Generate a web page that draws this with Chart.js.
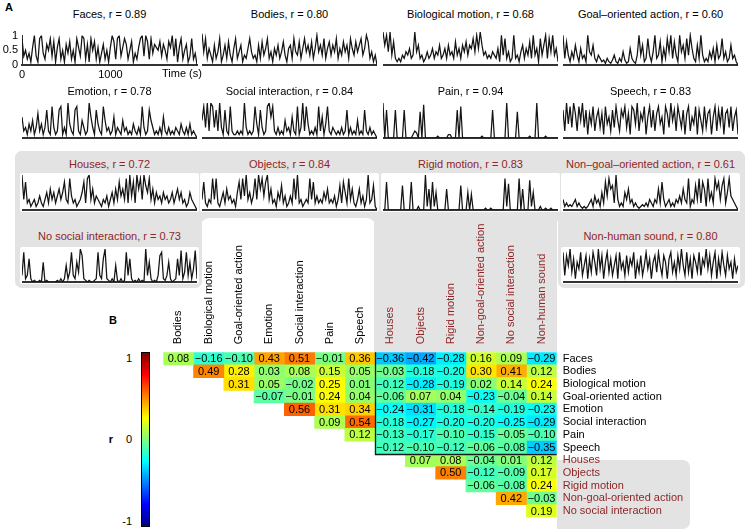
<!DOCTYPE html>
<html><head><meta charset="utf-8">
<script src="https://cdn.jsdelivr.net/npm/chart.js@4.4.1/dist/chart.umd.min.js"></script>
<style>
body{margin:0;width:747px;height:530px;position:relative;overflow:hidden;background:#fff;font-family:"Liberation Sans",Arial,sans-serif;}
canvas{position:absolute;}
</style></head><body>
<script>
// ---------------- DATA ----------------
const SERIES_NAMES = ['Faces','Bodies','Biological motion','Goal\u2013oriented action','Emotion','Social interaction','Pain','Speech','Houses','Objects','Rigid motion','Non\u2013goal\u2013oriented action','No social interaction','Non-human sound'];
const SERIES_R = [0.89,0.80,0.68,0.60,0.78,0.84,0.94,0.83,0.72,0.84,0.83,0.61,0.73,0.80];
const T_MAX = 1980;
const X_TICKS = [0,1000];
const Y_TICKS = [0,0.5,1];

const FACES = [.9,.3,.5,.2,.4,.1,.6,1,.3,.1,.9,1,.4,.2,.7,.5,.9,.3,.8,.1,.6,.9,.2,.5,.1,.7,.4,.8,.2,.5,.1,.9,.6,.3,1,.9,.2,.7,.1,.9,.5,.8,.2,.6,.1,.4,.7,.2,.5,.1,.6,1,.8,.2,.9,1,.3,.6,.9,.7,.2,.5,.8,.1,.4,.2,.6,.9,1,.3,1,.8,.2,.9,.4,.7,.6,.5,.8,.3,.7,.5,.2,.8,.6,1,.3,.9,.1,.6,.9,.2,.5,.7,.1,.3,.9,.2,.4,0];
const BODIES = [.95,.4,.8,.2,.5,.3,.1,.6,.2,.4,.8,.1,.3,.6,.2,.7,.3,.1,.5,.8,.2,.4,.6,.1,.3,.2,.5,.8,.4,.2,.3,.1,.6,.2,.7,.3,.5,.8,.2,.4,.1,.5,.3,.6,.2,.4,.7,.3,.1,.5,.6,.2,.8,.4,.3,.7,.2,.5,.8,.4,.6,.3,.7,.2,.5,.9,.4,.6,.3,.8,.2,.5,.7,.3,.6,.4,.8,.2,.5,.3,.7,.4,.6,.2,.8,.5,.3,.7,.4,.6,.8,.3,.5,.9,.7,.2,.4,.1,.3,0];
const BIO_MOTION = [1,.6,.9,.4,1,.3,.7,.2,.1,.2,.1,.3,.2,.4,.3,.5,.2,.3,1,.4,.6,.2,.3,.1,.2,.4,.2,.3,.5,.2,.4,.3,.6,.2,.3,.5,.2,.6,.3,.4,.2,.7,.3,.5,.2,.6,.4,.7,.3,.6,.5,.8,.4,.9,.5,1,.6,.3,.4,.2,.3,.2,.4,.3,.2,.5,.1,.9,.3,.8,.2,.4,.1,.2,.9,.2,.3,.1,.4,.6,.2,.5,.3,.7,.2,.9,.3,.5,.1,.8,.3,.6,.9,.2,.8,.4,.9,.3,.5,.1];
const GOAL_ACTION = [.9,.2,.7,.3,.1,.4,.2,.6,.3,.1,.5,.2,.3,.1,.9,.4,.3,.6,.2,.1,.3,.2,.1,.15,.05,.2,.1,.05,.15,.3,.1,.05,.2,.1,.4,.15,.05,.1,.5,.2,.1,.05,.3,.9,.3,.6,.1,.2,.8,.3,.1,.4,.9,.2,.3,.7,.1,.5,.2,.8,.4,.9,.2,.7,.3,.1,.9,.4,.6,.2,.8,.3,.9,.5,.2,.1,.6,.2,.9,.3,.1,.2,.1,.4,.2,.5,.1,.6,.2,.3,.8,.2,.4,.1,.2,.6,.2,.3,.1,0];
const EMOTION = [.6,.2,.3,.1,.4,.2,.5,.1,.3,.7,.2,.4,.1,.3,.8,.2,.1,.9,.3,.1,.2,.8,.9,.1,.3,.1,1,.4,.2,.1,.8,.9,.2,.1,.5,.3,.1,.2,1,.6,.3,.1,.8,.4,.2,.1,.9,.5,.2,.3,.1,.2,.6,.1,.3,.2,.1,.5,.2,.3,.1,.2,.1,.4,.2,.1,.3,.1,.9,.3,.1,.2,.8,.5,.3,.1,.2,.1,.3,.1,.6,.2,.1,.3,.1,.2,.1,.3,.2,.1,.4,.2,.1,.3,.1,.4,.1,.2,.1,0];
const SOCIAL = [.5,.9,.3,1,.2,1,.9,.3,.8,.2,1,.3,.1,.8,.2,.1,.9,.2,.1,.1,.2,.1,.2,.1,1,.3,.1,.2,.1,.2,.9,.4,.1,.8,.3,.1,.2,.9,1,.6,.9,.2,.1,.3,.1,.2,.1,.5,.2,.3,.1,.6,.2,.1,.9,.1,.3,1,.2,.9,.4,.1,.2,.1,.3,.1,.9,.2,.6,.1,.4,.9,.2,.1,.3,.2,.1,.2,.1,.3,.1,.2,.8,.1,.3,.1,.2,.1,.5,.1,.2,.1,.8,.2,.1,.3,.1,.2,.1,0];
const PAIN = [1,0,.8,0,0,0,0,.8,0,0,0,0,.8,0,0,0,0,.1,.2,.15,0,.75,0,.95,0,0,0,0,0,0,0,.05,0,0,0,0,0,.1,.1,0,0,0,.8,0,.9,0,0,0,0,0,0,0,0,0,0,0,.05,0,0,0,0,0,.8,0,0,0,0,0,0,0,1,0,0,0,0,0,.75,0,0,0,0,0,0,.05,0,0,0,1,0,0,0,0,.05,0,0,0,0,0,0,0];
const SPEECH = [.8,.2,1,.4,.9,.3,1,.7,.2,.9,.5,1,.3,.8,.1,.7,.4,.9,.2,.6,.8,.3,.7,.1,.9,.4,.6,.2,.8,.3,.9,.5,.2,.8,.6,.9,.3,.7,.1,.9,.8,.4,1,.2,.7,.5,.9,.1,.6,.9,.3,.8,.2,.7,.9,.4,.6,.1,.9,.7,.3,1,.5,.8,.2,.9,.6,.3,.8,.1,.7,.9,.2,.6,.4,.9,.1,.8,.5,.2,.9,.3,.7,.8,.1,.6,.9,.2,.8,.4,.9,.1,.7,.8,.3,.9,.2,.6,.8,.1];
const HOUSES = [1,.3,.8,.2,.3,.1,.2,.3,.1,.2,.4,.2,.1,.3,.5,.2,.6,.3,.5,.2,.4,.6,.3,.5,.8,.3,.2,.9,.4,.2,.3,.1,.2,.3,.5,.8,.2,.9,1,.3,.6,.2,.4,.3,.2,.1,.3,.2,.4,.1,.3,.5,.2,.6,.3,.8,.4,.6,.3,.9,.2,1,.4,.8,.2,1,.6,.9,.3,1,.7,.5,.9,.3,.6,.2,.5,.3,.4,.2,.5,.3,.4,.2,.3,.5,.2,.4,.6,.3,.5,.2,.3,.1,.2,.5,.3,.2,.1,0];
const OBJECTS = [.3,.8,.2,.1,.3,.2,.9,.3,.9,.2,.1,.3,.5,.2,.6,.3,.4,.2,.3,.1,.5,.8,.3,.9,.4,1,.3,.5,.2,.4,.9,.3,1,.6,.9,.4,.8,1,.3,.6,.2,.3,.1,.5,.3,.7,.2,.4,.1,.2,.4,.2,.9,.3,1,.2,.3,.1,.2,.3,.2,.9,.3,.8,.2,.4,.2,.3,.2,.5,.3,.6,.2,.3,.2,.4,.1,.3,.7,.2,.8,.5,.2,.9,.3,.6,.2,.1,.3,.6,.2,.4,.1,.3,1,.2,.3,.7,.1,0];
const RIGID_MOTION = [0,0,.8,0,0,0,0,0,0,0,0,.7,0,0,0,0,.8,0,0,0,.1,0,0,0,1,.1,.6,0,.8,.1,.5,0,0,0,0,0,.6,0,0,0,0,0,0,0,.7,0,0,0,.5,0,.45,0,0,0,0,0,0,0,.05,0,0,.05,0,0,0,0,0,0,0,.9,.1,.75,0,0,0,0,0,.9,0,.6,0,0,0,.85,.1,.5,0,0,0,.1,0,0,.05,0,0,.05,0,0,0,0];
const NONGOAL_ACTION = [.3,.1,.2,.1,.15,.1,.2,.3,.1,.2,.1,.05,.1,.05,.1,.2,.3,.1,.4,.2,.3,.1,.5,.2,.8,.4,.9,.6,.7,.2,1,.3,.1,.2,.1,.5,.3,.6,.2,.3,.1,.2,.1,.05,.1,.15,.1,.2,.1,.3,.2,.1,.3,.2,.6,.2,.8,.3,.1,.2,.3,.1,.2,.1,.3,.2,.4,.2,.6,.3,.2,.9,.1,.3,.2,.7,.3,.9,.2,.8,.6,.1,.9,.3,.5,.2,.9,.6,.8,.3,.7,.9,.2,.5,.9,.4,.3,.2,.1,0];
const NO_SOCIAL = [.2,.9,.1,.2,.7,.1,0,.05,0,0,.05,0,.6,0,.05,0,0,0,0,0,.05,0,.1,0,.1,.5,.1,.3,.9,.2,.1,.6,.3,1,.8,.1,.05,0,.05,0,0,.05,.1,.9,.2,.1,.7,1,.1,.05,0,.1,0,.5,.05,0,.1,0,.05,.9,.2,.7,.1,0,.05,0,.1,0,.05,0,1,.2,.6,.1,0,.05,0,.2,.8,.9,.1,.05,.2,.6,.1,0,.05,.1,.7,.2,.95,.1,.3,.9,.2,.6,.1,.4,.95,.1];
const NONHUMAN_SOUND = [.9,.2,.8,.5,1,.3,.7,.1,.6,.4,.9,.2,.5,.8,.1,.7,.3,.9,.6,.2,1,.4,.8,.1,.6,.9,.3,.7,.2,.5,.8,.1,.9,.4,.6,.2,.8,.3,.7,.5,.9,.1,.6,.3,.8,.2,.5,.9,.4,.7,.1,.6,.8,.3,.9,.5,.2,.8,.6,.1,.7,.9,.3,.6,.2,.8,.4,1,.5,.2,.9,.3,.7,.1,.8,.6,.3,.9,.2,.7,.5,1,.4,.8,.2,.6,.9,.1,.7,.3,.9,.5,.2,.8,.4,.6,.1,.7,.3,.5];

const SERIES_DATA = [FACES,BODIES,BIO_MOTION,GOAL_ACTION,EMOTION,SOCIAL,PAIN,SPEECH,HOUSES,OBJECTS,RIGID_MOTION,NONGOAL_ACTION,NO_SOCIAL,NONHUMAN_SOUND];

const COLS = ['Bodies','Biological motion','Goal-oriented action','Emotion','Social interaction','Pain','Speech','Houses','Objects','Rigid motion','Non-goal-oriented action','No social interaction','Non-human sound'];
const ROWS = ['Faces','Bodies','Biological motion','Goal-oriented action','Emotion','Social interaction','Pain','Speech','Houses','Objects','Rigid motion','Non-goal-oriented action','No social interaction'];
// row i lists correlations for columns i..12
const CORR_FACES = [0.08,-0.16,-0.10,0.43,0.51,-0.01,0.36,-0.36,-0.42,-0.28,0.16,0.09,-0.29];
const CORR_BODIES = [0.49,0.28,0.03,0.08,0.15,0.05,-0.03,-0.18,-0.20,0.30,0.41,0.12];
const CORR_BIO = [0.31,0.05,-0.02,0.25,0.01,-0.12,-0.28,-0.19,0.02,0.14,0.24];
const CORR_GOAL = [-0.07,-0.01,0.24,0.04,-0.06,0.07,0.04,-0.23,-0.04,0.14];
const CORR_EMOTION = [0.56,0.31,0.34,-0.24,-0.31,-0.18,-0.14,-0.19,-0.23];
const CORR_SOCIAL = [0.09,0.54,-0.18,-0.27,-0.20,-0.20,-0.25,-0.29];
const CORR_PAIN = [0.12,-0.13,-0.17,-0.10,-0.15,-0.05,-0.10];
const CORR_SPEECH = [-0.12,-0.10,-0.12,-0.06,-0.08,-0.35];
const CORR_HOUSES = [0.07,0.08,-0.04,0.01,0.12];
const CORR_OBJECTS = [0.50,-0.12,-0.09,0.17];
const CORR_RIGID = [-0.06,-0.08,0.24];
const CORR_NONGOAL = [0.42,-0.03];
const CORR_NOSOCIAL = [0.19];
const CORR = [CORR_FACES,CORR_BODIES,CORR_BIO,CORR_GOAL,CORR_EMOTION,CORR_SOCIAL,CORR_PAIN,CORR_SPEECH,CORR_HOUSES,CORR_OBJECTS,CORR_RIGID,CORR_NONGOAL,CORR_NOSOCIAL];

// ---------------- LAYOUT ----------------
const FONT = '"Liberation Sans", Arial, sans-serif';
const RED = '#8e2626';
const GRAY = '#e3e3e3';
const LINE = '#141414';
const COL_X = [22,202,383,563], PW = 175;
const ROW_TOP = [32,103,175,249], ROW_H = [33,35,35,33], TITLE_Y = [14,91,164,236];
const SLOTS = [[0,0],[0,1],[0,2],[0,3],[1,0],[1,1],[1,2],[1,3],[2,0],[2,1],[2,2],[2,3],[3,0],[3,3]];

function add(tag, css, text){ const e=document.createElement(tag); e.style.cssText=css; if(text!=null) e.textContent=text; document.body.appendChild(e); return e; }
function box(l,t,w,h,bg,rad){ return add('div',`position:absolute;left:${l}px;top:${t}px;width:${w}px;height:${h}px;background:${bg};border-radius:${rad||'0'};`); }

// gray backgrounds
box(15,151,730,70,GRAY,'7px 7px 0 0');
box(15,151,187,137,GRAY,'7px');
box(374,151,183,201,GRAY,'0');
box(558,151,187,137,GRAY,'0 7px 7px 7px');
box(557,460,133,69,GRAY,'0 7px 7px 0');
box(202,218,172,200,'#fff','7px 7px 0 0');
box(558,288,190,60,'#fff','7px 0 0 0');

add('div',`position:absolute;left:5px;top:1px;font:bold 11px ${FONT};`,'A');
add('div',`position:absolute;left:109px;top:314px;font:bold 11px ${FONT};`,'B');

function txt(s,x,y,opt){ opt=opt||{}; return add('div',`position:absolute;left:${x}px;top:${y}px;font:${opt.bold?'bold ':''}11px ${FONT};color:${opt.color||'#000'};white-space:nowrap;line-height:13px;transform:translate(${opt.tx==null?-50:opt.tx}%,-50%);`,s); }

const base = {animation:false,responsive:false,events:[],plugins:{legend:{display:false},tooltip:{enabled:false}}};

SERIES_DATA.forEach((vals,k)=>{
  const [r,c] = SLOTS[k];
  const red = k>=8;
  const x0 = COL_X[c], top = ROW_TOP[r], h = ROW_H[r];
  if (r>=2) box(x0-2, top-2, PW+4, h+4, '#fff', '2px');
  txt(SERIES_NAMES[k]+', r = '+SERIES_R[k].toFixed(2), x0+PW/2, TITLE_Y[r], {color: red?RED:'#000'});
  const pts = vals.map((v,i)=>({x: i*T_MAX/(vals.length-1), y: v}));
  const cv = document.createElement('canvas');
  const ds = [{data:pts,borderColor:LINE,borderWidth:1.25,pointRadius:0,tension:0}];
  let cfg;
  if (k===0){
    cv.width=200; cv.height=62; cv.style.left='0px'; cv.style.top='25px';
    cfg = {type:'line',data:{datasets:ds},
      options:{...base,layout:{padding:{top:7,right:3,left:0,bottom:0}},
        scales:{
          x:{type:'linear',min:0,max:T_MAX,afterBuildTicks:a=>{a.ticks=X_TICKS.map(v=>({value:v}));},
             ticks:{font:{size:11,family:FONT},color:'#000',padding:3,maxRotation:0,autoSkip:false,callback:v=>String(v)},
             grid:{display:false,drawTicks:false},border:{display:true,color:'#333',width:2},afterFit:s=>{s.height=22;}},
          y:{type:'linear',min:0,max:1,afterBuildTicks:a=>{a.ticks=Y_TICKS.map(v=>({value:v}));},
             ticks:{font:{size:11,family:FONT},color:'#000',padding:4,autoSkip:false,callback:v=>String(v)},
             grid:{display:false,drawTicks:false},border:{display:true,color:'#333',width:1},afterFit:s=>{s.width=22;}}
        }}};
  } else {
    cv.width=PW; cv.height=h+4; cv.style.left=x0+'px'; cv.style.top=(top-2)+'px';
    cfg = {type:'line',data:{datasets:ds},
      options:{...base,layout:{padding:{top:2,bottom:2,left:0,right:0}},
        scales:{
          x:{type:'linear',min:0,max:T_MAX,ticks:{display:false},grid:{display:false,drawTicks:false},border:{display:true,color:'#333',width:2},afterFit:s=>{s.height=0;}},
          y:{type:'linear',min:0,max:1,display:false}
        }}};
  }
  document.body.appendChild(cv);
  new Chart(cv.getContext('2d'), cfg);
});
txt('Time (s)',162,73,{tx:0});

// colorbar
add('div',`position:absolute;left:141px;top:352px;width:7px;height:173px;border:1px solid #000;background:linear-gradient(to top,rgb(0,0,128) 0%,rgb(0,0,255) 12.5%,rgb(0,255,255) 37.5%,rgb(255,255,0) 62.5%,rgb(255,0,0) 87.5%,rgb(128,0,0) 100%);`);
txt('1',132,358,{tx:-100});
txt('0',132,439,{tx:-100});
txt('-1',132,521,{tx:-100});
txt('r',111,439,{bold:true});

// ---------------- MATRIX ----------------
function jet(v){ const t=(v+1)/2; const f=x=>Math.max(0,Math.min(1,1.5-Math.abs(4*t-x))); return `rgb(${Math.round(f(3)*255)},${Math.round(f(2)*255)},${Math.round(f(1)*255)})`; }
function fmt(v){ return (v<0?'\u2212':'')+Math.abs(v).toFixed(2); }

const mcv = document.createElement('canvas');
mcv.width=597; mcv.height=330; mcv.style.left='150px'; mcv.style.top='200px';
document.body.appendChild(mcv);

const datasets = COLS.map((col,j)=>({
  label: col,
  data: ROWS.map((row,i)=> j>=i ? [j,j+1] : null),
  backgroundColor: ctx => { const i=ctx.dataIndex; return (j>=i) ? jet(CORR[i][j-i]) : 'rgba(0,0,0,0)'; },
  borderWidth:0, barPercentage:1, categoryPercentage:1, grouped:false
}));

const matrixText = {
  id:'matrixText',
  afterDatasetsDraw(chart){
    const c=chart.ctx; c.save();
    c.font='11px '+FONT; c.fillStyle='#000'; c.textAlign='center'; c.textBaseline='middle';
    chart.data.datasets.forEach((ds,j)=>{
      chart.getDatasetMeta(j).data.forEach((el,i)=>{
        if (ds.data[i]==null) return;
        c.fillText(fmt(CORR[i][j-i]), (el.x+el.base)/2, el.y+0.5);
      });
    });
    const xs=chart.scales.x, ys=chart.scales.y;
    // column headers, rotated, read bottom-to-top
    c.textAlign='left';
    COLS.forEach((name,j)=>{
      c.save();
      c.translate(xs.getPixelForValue(j+0.5), chart.chartArea.top-8);
      c.rotate(-Math.PI/2);
      c.fillStyle = j>=7 ? RED : '#000';
      c.fillText(name,0,0);
      c.restore();
    });
    const x0=Math.round(xs.getPixelForValue(7))+0.5, x1=xs.getPixelForValue(13);
    const y0=ys.getPixelForValue(-0.5), y1=Math.round(ys.getPixelForValue(7.5))+0.5;
    c.strokeStyle='#1a1a1a'; c.lineWidth=1.3;
    c.beginPath(); c.moveTo(x0,y0); c.lineTo(x0,y1); c.lineTo(x1,y1); c.stroke();
    c.restore();
  }
};

new Chart(mcv.getContext('2d'),{
  type:'bar',
  data:{labels:ROWS,datasets},
  options:{...base,indexAxis:'y',
    layout:{padding:{left:13.3,right:0,top:0,bottom:1.9}},
    scales:{
      x:{type:'linear',position:'top',min:0,max:13,
         ticks:{display:false},
         grid:{display:false,drawTicks:false},border:{display:false},
         afterFit:s=>{s.height=152.2;}},
      y:{type:'category',position:'right',offset:true,
         ticks:{autoSkip:false,padding:6,font:{size:11,family:FONT},color:ctx=>ctx.index>=8?RED:'#000'},
         grid:{display:false,drawTicks:false},border:{display:false},
         afterFit:s=>{s.width=190.3;}}
    }},
  plugins:[matrixText]
});
</script>
</body></html>
